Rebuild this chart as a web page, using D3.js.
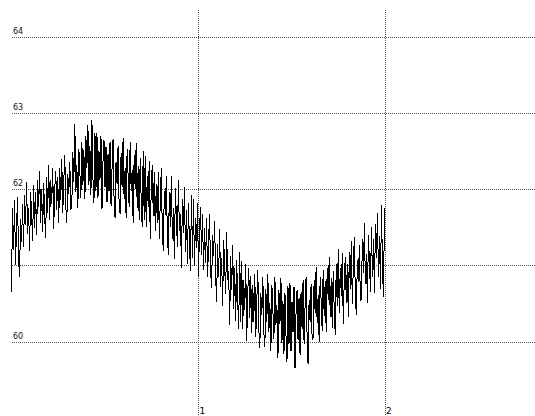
<!DOCTYPE html>
<html>
<head>
<meta charset="utf-8">
<script src="https://cdn.jsdelivr.net/npm/d3@7"></script>
<style>
  body { margin: 0; background: #fff; }
  svg { display: block; }
</style>
</head>
<body>
<div id="chart"></div>
<script>
// x extent of the signal, grid and tick labels
const xStart = 0;
const xEnd = 2;
const xTicks = [1, 2];
const yGrid = [60, 61, 62, 63, 64];
const yLabels = [60, 62, 63, 64]; // 61 is hidden under the trace

// signal values, evenly spaced from xStart to xEnd
const values = [
  60.65, 61.75, 61.20, 61.85, 61.00, 61.50, 61.90, 61.10, 60.85, 61.60, 61.30, 61.80,
  61.24, 61.92, 61.53, 62.09, 61.41, 61.75, 61.19, 61.96, 61.66, 61.32, 62.05, 61.49,
  61.96, 61.40, 62.12, 61.76, 62.24, 61.56, 62.00, 61.44, 62.08, 61.64, 61.36, 62.16,
  61.68, 62.32, 61.60, 62.12, 61.80, 62.28, 61.48, 62.00, 62.24, 61.72, 62.16, 61.56,
  62.27, 61.85, 62.39, 61.69, 62.10, 62.44, 61.77, 61.56, 62.19, 61.94, 62.35, 61.73,
  61.79, 62.48, 62.09, 62.85, 61.96, 62.31, 61.75, 62.53, 62.22, 61.88, 62.61, 62.05,
  62.51, 61.87, 62.70, 62.28, 62.84, 62.05, 62.56, 61.92, 62.90, 62.15, 61.82, 62.74,
  61.97, 62.74, 61.88, 62.50, 62.12, 62.69, 61.74, 62.36, 62.64, 62.02, 62.55, 61.83,
  62.46, 61.98, 62.61, 61.78, 62.27, 62.66, 61.88, 61.62, 62.36, 62.07, 62.56, 61.83,
  61.67, 62.47, 62.02, 62.67, 61.87, 62.27, 61.62, 62.52, 62.17, 61.77, 62.62, 61.97,
  62.25, 61.55, 62.45, 62.00, 62.60, 61.75, 62.30, 61.60, 62.40, 61.85, 61.50, 62.50,
  61.60, 62.43, 61.50, 62.17, 61.76, 62.37, 61.34, 62.01, 62.32, 61.65, 62.22, 61.45,
  62.07, 61.55, 62.22, 61.35, 61.86, 62.28, 61.45, 61.19, 61.97, 61.66, 62.17, 61.40,
  61.14, 61.96, 61.50, 62.17, 61.34, 61.75, 61.08, 62.01, 61.65, 61.24, 62.12, 61.45,
  61.67, 60.97, 61.87, 61.42, 62.02, 61.17, 61.72, 61.02, 61.82, 61.27, 60.92, 61.92,
  61.09, 61.87, 60.99, 61.62, 61.23, 61.82, 60.85, 61.48, 61.77, 61.14, 61.67, 60.94,
  61.49, 61.03, 61.62, 60.84, 61.30, 61.67, 60.93, 60.70, 61.39, 61.12, 61.58, 60.89,
  60.52, 61.28, 60.85, 61.47, 60.71, 61.09, 60.47, 61.33, 61.00, 60.62, 61.43, 60.81,
  60.92, 60.22, 61.12, 60.67, 61.27, 60.42, 60.97, 60.27, 61.07, 60.52, 60.17, 61.17,
  60.26, 61.06, 60.16, 60.81, 60.41, 61.01, 60.01, 60.66, 60.96, 60.31, 60.86, 60.11,
  60.74, 60.26, 60.89, 60.06, 60.55, 60.94, 60.16, 59.92, 60.64, 60.35, 60.84, 60.11,
  59.93, 60.69, 60.26, 60.88, 60.12, 60.50, 59.88, 60.74, 60.41, 60.03, 60.84, 60.22,
  60.48, 59.78, 60.68, 60.23, 60.83, 59.98, 60.53, 59.83, 60.63, 60.08, 59.73, 60.73,
  59.97, 60.77, 59.87, 60.52, 60.12, 60.72, 59.65, 60.37, 60.67, 60.02, 60.57, 59.82,
  60.65, 60.17, 60.80, 59.97, 60.46, 60.85, 60.07, 59.70, 60.55, 60.26, 60.75, 60.02,
  60.05, 60.80, 60.38, 60.98, 60.24, 60.61, 60.00, 60.84, 60.52, 60.14, 60.94, 60.33,
  60.79, 60.13, 60.97, 60.55, 61.11, 60.32, 60.83, 60.18, 60.93, 60.41, 60.09, 61.02,
  60.46, 61.21, 60.37, 60.97, 60.60, 61.16, 60.23, 60.83, 61.11, 60.51, 61.02, 60.32,
  61.17, 60.69, 61.32, 60.49, 60.98, 61.37, 60.59, 60.35, 61.07, 60.78, 61.27, 60.54,
  60.55, 61.35, 60.90, 61.55, 60.75, 61.15, 60.50, 61.40, 61.05, 60.65, 61.50, 60.85,
  61.34, 60.64, 61.54, 61.09, 61.69, 60.84, 61.39, 60.69, 61.79, 60.94, 60.59, 61.75
];

const width = 535;
const height = 416;

const x = d3.scaleLinear().domain([0, 2]).range([11.5, 384.5]);
const y = d3.scaleLinear().domain([60, 64]).range([341.5, 36.5]);

const svg = d3.select('#chart')
  .append('svg')
  .attr('width', width)
  .attr('height', height);

// grid
svg.selectAll('line.hgrid')
  .data(yGrid)
  .enter()
  .append('line')
  .attr('class', 'hgrid')
  .attr('x1', 12)
  .attr('x2', width)
  .attr('y1', d => Math.round(y(d)) + 0.5)
  .attr('y2', d => Math.round(y(d)) + 0.5)
  .attr('stroke', '#555')
  .attr('stroke-dasharray', '1,1')
  .attr('shape-rendering', 'crispEdges');

svg.selectAll('line.vgrid')
  .data(xTicks)
  .enter()
  .append('line')
  .attr('class', 'vgrid')
  .attr('x1', d => Math.round(x(d)) + 0.5)
  .attr('x2', d => Math.round(x(d)) + 0.5)
  .attr('y1', 10)
  .attr('y2', height)
  .attr('stroke', '#555')
  .attr('stroke-dasharray', '1,1')
  .attr('shape-rendering', 'crispEdges');

// labels
svg.selectAll('text.ylab')
  .data(yLabels)
  .enter()
  .append('text')
  .attr('class', 'ylab')
  .attr('x', 13)
  .attr('y', d => y(d) - 3)
  .attr('font-family', 'DejaVu Sans, sans-serif')
  .attr('font-size', 8)
  .attr('fill', '#111')
  .text(d => d);

svg.selectAll('text.xlab')
  .data(xTicks)
  .enter()
  .append('text')
  .attr('class', 'xlab')
  .attr('x', d => x(d) + 1.5)
  .attr('y', 414)
  .attr('font-family', 'DejaVu Sans, sans-serif')
  .attr('font-size', 9)
  .attr('fill', '#000')
  .text(d => d);

// signal
const step = (xEnd - xStart) / (values.length - 1);
const line = d3.line()
  .x((d, i) => x(xStart + i * step))
  .y(d => y(d));

svg.append('path')
  .datum(values)
  .attr('d', line)
  .attr('fill', 'none')
  .attr('stroke', '#000')
  .attr('stroke-width', 1)
  .attr('shape-rendering', 'crispEdges');
</script>
</body>
</html>
